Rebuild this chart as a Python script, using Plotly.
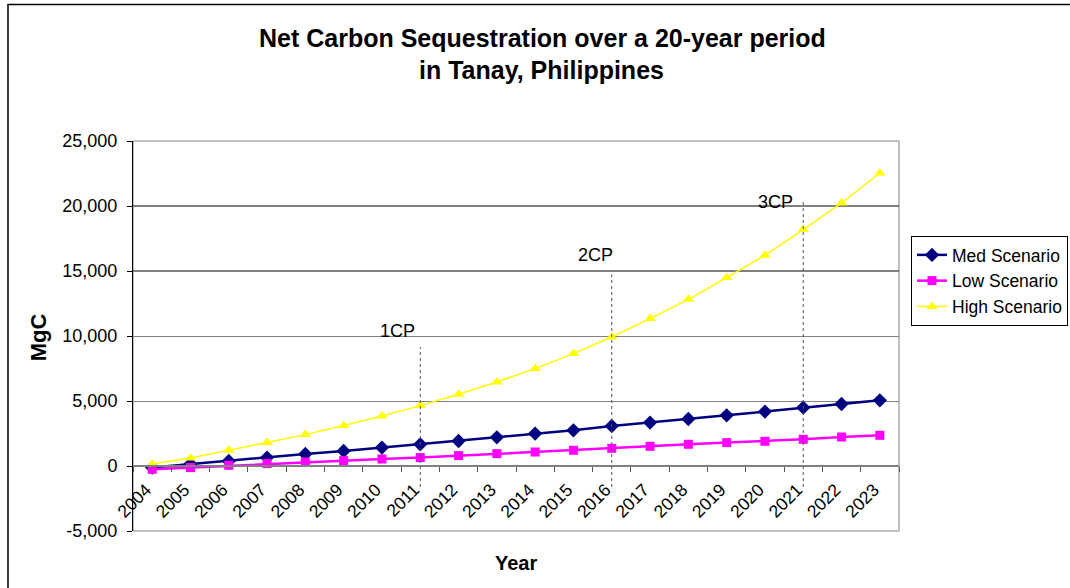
import plotly.graph_objects as go

# ---------------- data ----------------
YEARS = ["2004", "2005", "2006", "2007", "2008", "2009", "2010", "2011", "2012", "2013",
         "2014", "2015", "2016", "2017", "2018", "2019", "2020", "2021", "2022", "2023"]
MED = [-120, 150, 385, 646, 923, 1154, 1415, 1669, 1923, 2208,
       2492, 2746, 3077, 3338, 3615, 3900, 4185, 4492, 4769, 5054]
LOW = [-254, -123, 54, 185, 308, 415, 538, 646, 800, 954,
       1077, 1208, 1361, 1515, 1669, 1800, 1900, 2054, 2231, 2361]
HIGH = [150, 615, 1208, 1800, 2415, 3108, 3846, 4646, 5515, 6461,
        7492, 8646, 9923, 11338, 12823, 14492, 16207, 18184, 20231, 22538]

Y_TICKS = [-5000, 0, 5000, 10000, 15000, 20000, 25000]
Y_TICK_LABELS = ["-5,000", "0", "5,000", "10,000", "15,000", "20,000", "25,000"]

CP_YEARS = ["2011", "2016", "2021"]
CP_LABELS = ["1CP", "2CP", "3CP"]
CP_TOPS = [9150, 14750, 20300]
CP_BOTTOM = -1615

TITLE_1 = "Net Carbon Sequestration over a 20-year period"
TITLE_2 = "in Tanay, Philippines"

FONT = "Liberation Sans, Arial, sans-serif"

# ---------------- figure ----------------
fig = go.Figure()
fig.add_trace(go.Scatter(x=YEARS, y=MED, name="Med Scenario", mode="lines+markers",
                         line=dict(color="#000080", width=2.5),
                         marker=dict(symbol="diamond", size=11, color="#000080")))
fig.add_trace(go.Scatter(x=YEARS, y=LOW, name="Low Scenario", mode="lines+markers",
                         line=dict(color="#FF00FF", width=2.5),
                         marker=dict(symbol="square", size=9, color="#FF00FF")))
fig.add_trace(go.Scatter(x=YEARS, y=HIGH, name="High Scenario", mode="lines+markers",
                         line=dict(color="#FFFF00", width=1.5),
                         marker=dict(symbol="triangle-up", size=10, color="#FFFF00")))

L, R, T, B = 133, 168, 141, 57
W, H = 1070, 588
pw = W - L - R
ph = H - T - B


def px_x(v):
    return (v - L) / pw


def px_y(v):
    return (H - B - v) / ph


shapes = []
# plot-area border (gray)
shapes.append(dict(type="rect", xref="paper", yref="paper", x0=0, x1=1, y0=0, y1=1,
                   line=dict(color="#808080", width=1), layer="below"))
# darker gridlines
for gv in [15000, 20000]:
    shapes.append(dict(type="line", xref="paper", yref="y", x0=0, x1=1, y0=gv, y1=gv,
                       line=dict(color="#000000", width=1), layer="between"))
# CP dotted lines
for yr, top in zip(CP_YEARS, CP_TOPS):
    xi = YEARS.index(yr)
    shapes.append(dict(type="line", xref="x", yref="y", x0=xi, x1=xi, y0=CP_BOTTOM, y1=top,
                       line=dict(color="#555555", width=1, dash="dot"), layer="above"))
# outer chart border
shapes.append(dict(type="rect", xref="paper", yref="paper",
                   x0=px_x(7.5), x1=px_x(1080), y0=px_y(600), y1=px_y(4.5),
                   line=dict(color="#000000", width=1.5), layer="below"))

annotations = []
annotations.append(dict(text="<b>" + TITLE_1 + "</b>", xref="paper", yref="paper",
                        x=px_x(544), y=px_y(38), xanchor="center", yanchor="middle",
                        showarrow=False, font=dict(family=FONT, size=25, color="#000")))
annotations.append(dict(text="<b>" + TITLE_2 + "</b>", xref="paper", yref="paper",
                        x=px_x(543), y=px_y(70), xanchor="center", yanchor="middle",
                        showarrow=False, font=dict(family=FONT, size=25, color="#000")))
annotations.append(dict(text="<b>MgC</b>", xref="paper", yref="paper",
                        x=px_x(38), y=px_y(337), xanchor="center", yanchor="middle",
                        textangle=-90, showarrow=False,
                        font=dict(family=FONT, size=22, color="#000")))
annotations.append(dict(text="<b>Year</b>", xref="paper", yref="paper",
                        x=px_x(517), y=px_y(563), xanchor="center", yanchor="middle",
                        showarrow=False, font=dict(family=FONT, size=20, color="#000")))
# CP labels (positions in category-index / data units)
CP_LABEL_X = [6.41, 11.57, 16.27]
CP_LABEL_Y = [10423, 16230, 20307]
for lab, lx, ly in zip(CP_LABELS, CP_LABEL_X, CP_LABEL_Y):
    annotations.append(dict(text=lab, xref="x", yref="y", x=lx, y=ly,
                            xanchor="center", yanchor="middle", showarrow=False,
                            font=dict(family=FONT, size=18, color="#000")))

fig.update_layout(
    width=W, height=H,
    margin=dict(l=L, r=R, t=T, b=B),
    paper_bgcolor="white", plot_bgcolor="white",
    font=dict(family=FONT, size=18, color="#000"),
    showlegend=True,
    legend=dict(xref="container", yref="container",
                x=911 / W, y=1 - 236 / H, xanchor="left", yanchor="top",
                bordercolor="#000000", borderwidth=1, bgcolor="white",
                font=dict(family=FONT, size=17.5, color="#000"),
                itemwidth=30, tracegroupgap=0),
    shapes=shapes, annotations=annotations,
    xaxis=dict(type="category", anchor="free", position=1 / 6,
               showline=True, linecolor="#808080", linewidth=1.5,
               ticks="outside", tickson="boundaries", ticklen=5, tickcolor="#555555",
               tickangle=-45, showgrid=False, zeroline=False,
               ticklabelstandoff=6, ticklabelshift=-6,
               tickfont=dict(family=FONT, size=17.5, color="#000"),
               range=[-0.5, 19.5]),
    yaxis=dict(range=[-5000, 25000], tickvals=Y_TICKS, ticktext=Y_TICK_LABELS,
               showline=True, linecolor="#000000", linewidth=1,
               ticks="outside", ticklen=5, tickcolor="#000000",
               ticklabelstandoff=6,
               showgrid=True, gridcolor="#808080", gridwidth=1, zeroline=False,
               tickfont=dict(family=FONT, size=18, color="#000")),
)

fig.write_html("out.html", config={"displayModeBar": False},
               post_script="document.body.style.margin='0px';"
                           "document.body.style.overflow='hidden';")
